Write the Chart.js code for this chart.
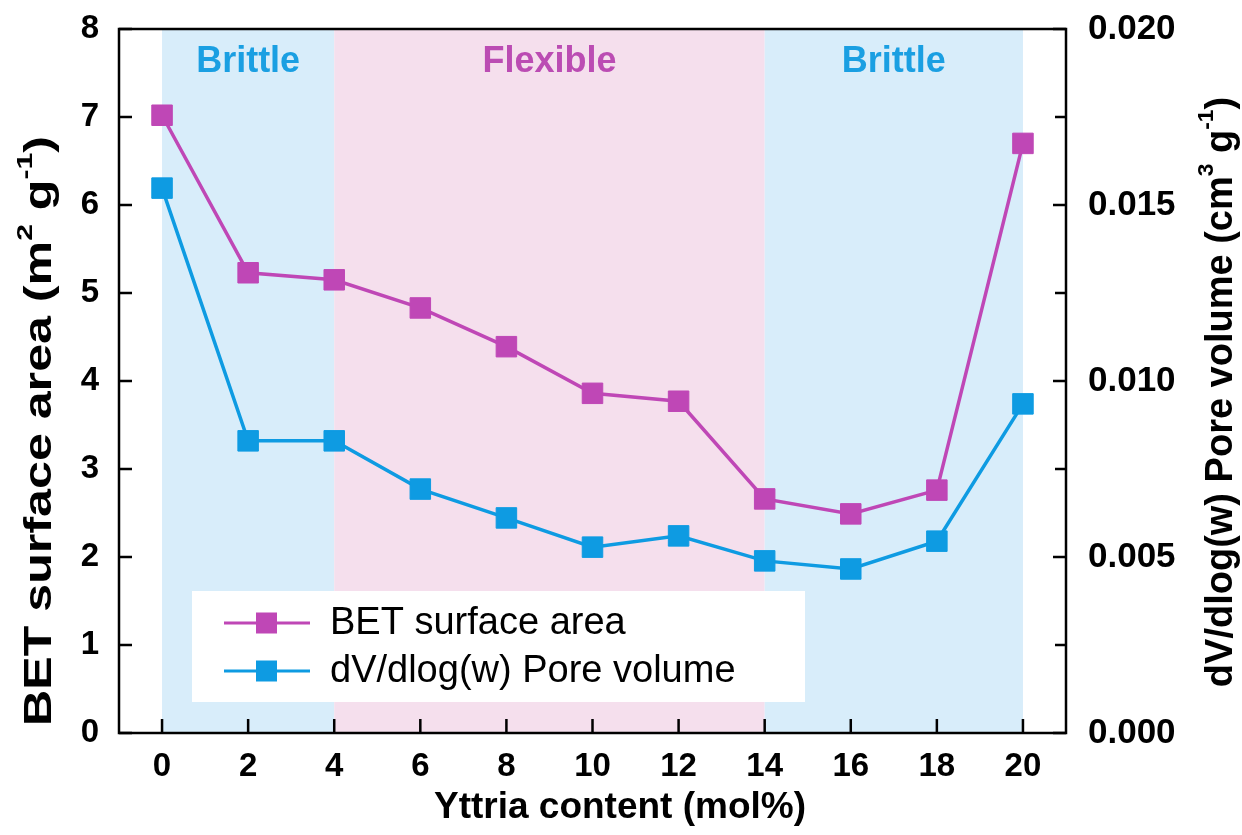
<!DOCTYPE html>
<html>
<head>
<meta charset="utf-8">
<script src="https://cdn.jsdelivr.net/npm/chart.js@4.4.0/dist/chart.umd.min.js"></script>
<style>
  html, body { margin: 0; padding: 0; background: #fff; }
  #wrap { width: 1242px; height: 835px; }
</style>
</head>
<body>
<div id="wrap"><canvas id="betChart" width="1242" height="835"></canvas></div>
<script>
  // values
  const yttria = [0, 2, 4, 6, 8, 10, 12, 14, 16, 18, 20];
  const betArea = [7.02, 5.23, 5.15, 4.83, 4.39, 3.86, 3.77, 2.66, 2.49, 2.76, 6.70];
  const poreVolume = [0.01548, 0.00830, 0.00830, 0.00693, 0.00611, 0.00528, 0.00560, 0.00489, 0.00466, 0.00545, 0.00935];

  const xTicks = [0, 2, 4, 6, 8, 10, 12, 14, 16, 18, 20];
  const leftTicks = [0, 1, 2, 3, 4, 5, 6, 7, 8];
  const rightTicks = [0, 0.0025, 0.005, 0.0075, 0.01, 0.0125, 0.015, 0.0175, 0.02];

  const regionStart = [0, 4, 14];
  const regionEnd = [4, 14, 20];
  const regionNames = ['Brittle', 'Flexible', 'Brittle'];

  const MAGENTA = '#bf47b6';
  const BLUE = '#0e9be2';
  const regionFill = ['#d8edfa', '#f5dfed', '#d8edfa'];
  const regionText = ['#1a9fe2', '#bb4cb3', '#1a9fe2'];

  const FONT = '"Liberation Sans", Arial, sans-serif';

  // text with superscripts, optionally stretched along its direction
  function drawRich(ctx, parts, cx, cy, rot, size, stretch) {
    ctx.save();
    ctx.translate(cx, cy);
    ctx.rotate(rot);
    ctx.scale(stretch || 1, 1);
    ctx.textBaseline = 'middle';
    ctx.textAlign = 'left';
    ctx.fillStyle = '#000';
    let total = 0;
    const widths = parts.map(p => {
      ctx.font = 'bold ' + (p.sup ? size * 0.6 : size) + 'px ' + FONT;
      const w = ctx.measureText(p.t).width;
      total += w;
      return w;
    });
    let x = -total / 2;
    parts.forEach((p, i) => {
      ctx.font = 'bold ' + (p.sup ? size * 0.6 : size) + 'px ' + FONT;
      ctx.fillText(p.t, x, p.sup ? -size * 0.4 : 0);
      x += widths[i];
    });
    ctx.restore();
  }

  const figurePlugin = {
    id: 'figure',
    beforeDatasetsDraw(chart) {
      const ctx = chart.ctx;
      const area = chart.chartArea;
      const xs = chart.scales.x;
      ctx.save();
      for (let i = 0; i < regionStart.length; i++) {
        const x0 = xs.getPixelForValue(regionStart[i]);
        const x1 = xs.getPixelForValue(regionEnd[i]);
        ctx.fillStyle = regionFill[i];
        ctx.fillRect(x0, area.top, x1 - x0, area.bottom - area.top);
        ctx.fillStyle = regionText[i];
        ctx.font = 'bold 36px ' + FONT;
        ctx.textAlign = 'center';
        ctx.textBaseline = 'middle';
        ctx.fillText(regionNames[i], (x0 + x1) / 2, 62);
      }
      ctx.restore();
    },
    afterDatasetsDraw(chart) {
      // legend box
      const ctx = chart.ctx;
      ctx.save();
      ctx.fillStyle = '#fff';
      ctx.fillRect(192, 591, 613, 111);
      chart.data.datasets.forEach((ds, i) => {
        const y = 623 + i * 48;
        ctx.strokeStyle = ds.borderColor;
        ctx.lineWidth = 3;
        ctx.beginPath();
        ctx.moveTo(224, y);
        ctx.lineTo(310, y);
        ctx.stroke();
        ctx.fillStyle = ds.backgroundColor;
        ctx.fillRect(256, y - 10.5, 21, 21);
        ctx.fillStyle = '#000';
        ctx.font = '38px ' + FONT;
        ctx.textAlign = 'left';
        ctx.textBaseline = 'middle';
        ctx.fillText(ds.label, 330, y + 1);
      });
      ctx.restore();
    },
    afterDraw(chart) {
      const ctx = chart.ctx;
      const a = chart.chartArea;
      const { x, y, y2 } = chart.scales;
      ctx.save();
      ctx.strokeStyle = '#000';
      ctx.lineWidth = 2.5;
      ctx.strokeRect(a.left, a.top, a.right - a.left, a.bottom - a.top);
      ctx.beginPath();
      xTicks.forEach(v => {
        const px = x.getPixelForValue(v);
        ctx.moveTo(px, a.bottom);
        ctx.lineTo(px, a.bottom - 14);
      });
      leftTicks.forEach(v => {
        const py = y.getPixelForValue(v);
        ctx.moveTo(a.left, py);
        ctx.lineTo(a.left + 13, py);
      });
      rightTicks.forEach((v, i) => {
        const py = y2.getPixelForValue(v);
        ctx.moveTo(a.right, py);
        ctx.lineTo(a.right - (i % 2 ? 11 : 13), py);
      });
      ctx.stroke();
      ctx.restore();

      drawRich(ctx, [{ t: 'Yttria content (mol%)' }], 620, 808, 0, 37);
      drawRich(ctx, [{ t: 'BET surface area (m' }, { t: '2', sup: true }, { t: ' g' }, { t: '-1', sup: true }, { t: ')' }],
        41, 431, -Math.PI / 2, 38, 1.32);
      drawRich(ctx, [{ t: 'dV/dlog(w) Pore volume (cm' }, { t: '3', sup: true }, { t: ' g' }, { t: '-1', sup: true }, { t: ')' }],
        1222, 392, -Math.PI / 2, 38);
    }
  };

  const tickFont = { family: FONT, size: 33, weight: 'bold' };
  const noPad = s => { s.paddingTop = 0; s.paddingBottom = 0; s.paddingLeft = 0; s.paddingRight = 0; };

  new Chart(document.getElementById('betChart'), {
    type: 'line',
    data: {
      datasets: [{
        label: 'BET surface area',
        data: yttria.map((v, i) => ({ x: v, y: betArea[i] })),
        borderColor: MAGENTA,
        backgroundColor: MAGENTA,
        borderWidth: 3.5,
        pointStyle: 'rect',
        pointRadius: 14.5,
        pointBorderWidth: 1,
        yAxisID: 'y'
      }, {
        label: 'dV/dlog(w) Pore volume',
        data: yttria.map((v, i) => ({ x: v, y: poreVolume[i] })),
        borderColor: BLUE,
        backgroundColor: BLUE,
        borderWidth: 3.5,
        pointStyle: 'rect',
        pointRadius: 14.5,
        pointBorderWidth: 1,
        yAxisID: 'y2'
      }]
    },
    options: {
      responsive: false,
      animation: false,
      devicePixelRatio: 1,
      layout: { padding: { top: 29, left: 0, right: 0, bottom: 0 } },
      plugins: { legend: { display: false }, tooltip: { enabled: false } },
      scales: {
        x: {
          type: 'linear', min: -1, max: 21,
          afterBuildTicks: s => { s.ticks = xTicks.map(v => ({ value: v })); },
          afterFit: s => { s.height = 102; noPad(s); },
          grid: { display: false, drawTicks: false },
          border: { display: false },
          ticks: { font: tickFont, color: '#000', padding: 14, maxRotation: 0, autoSkip: false }
        },
        y: {
          position: 'left', min: 0, max: 8,
          afterBuildTicks: s => { s.ticks = leftTicks.map(v => ({ value: v })); },
          afterFit: s => { s.width = 119; noPad(s); },
          grid: { display: false, drawTicks: false },
          border: { display: false },
          ticks: { font: tickFont, color: '#000', padding: 20 }
        },
        y2: {
          position: 'right', min: 0, max: 0.02,
          afterBuildTicks: s => { s.ticks = rightTicks.map(v => ({ value: v })); },
          afterFit: s => { s.width = 176; noPad(s); },
          grid: { display: false, drawTicks: false },
          border: { display: false },
          ticks: {
            font: { family: FONT, size: 35, weight: 'bold' }, color: '#000', padding: 22,
            callback: v => (Math.round(v * 10000) % 50 === 0 ? v.toFixed(3) : '')
          }
        }
      }
    },
    plugins: [figurePlugin]
  });
</script>
</body>
</html>
